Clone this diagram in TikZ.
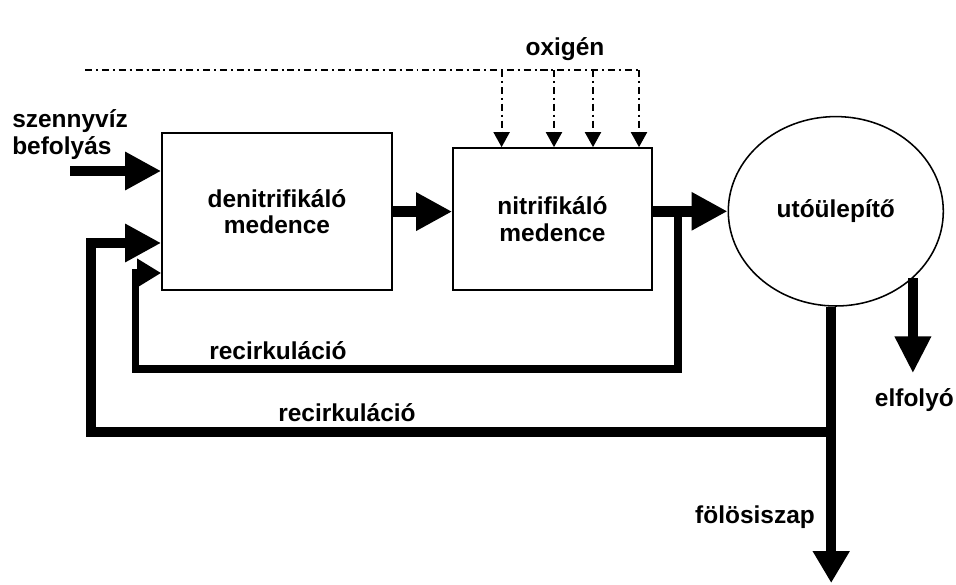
\documentclass[tikz,border=0pt]{standalone}
\usepackage{fontspec}
\setmainfont{Liberation Sans}
\usetikzlibrary{arrows.meta, shapes.geometric}

\begin{document}
\begin{tikzpicture}[
	font=\fontsize{17.4}{19}\selectfont\bfseries,
	% Styles for the basins and the flow lines
	basin/.style={draw, line width=1.2pt, align=center, inner sep=0pt},
	flow/.style={line width=7.2pt, -{Triangle[length=9mm, width=9mm]}},
	recflow/.style={line width=5.3pt, -{Triangle[length=6mm, width=6.8mm]}},
	airflow/.style={line width=1.4pt, dash pattern=on 5pt off 2.8pt on 1.4pt off 2.8pt},
	labeltext/.style={inner sep=0pt}
	]
	\useasboundingbox (0,0) rectangle (23.9,14.6);
	
	% ==========================================
	% 1. BASINS
	% ==========================================
	\node[basin, minimum width=5.75cm, minimum height=3.925cm] (denit) at (6.925,9.31) {denitrifikáló\\medence};
	\node[basin, minimum width=4.975cm, minimum height=3.55cm] (nitr) at (13.8125,9.125) {nitrifikáló\\medence};
	\node[basin, ellipse, line width=1.1pt, minimum width=5.375cm, minimum height=4.735cm] (settler) at (20.895,9.3175) {utóülepítő};
	
	% ==========================================
	% 2. MAIN FLOW
	% ==========================================
	\coordinate (inflow) at (1.75,10.325);
	\draw[flow] (inflow) -- (inflow -| denit.west);
	\draw[flow, line width=7.6pt] (denit.east) -- (denit.east -| nitr.west);
	\draw[flow, line width=7.6pt] (nitr.east |- settler.west) -- (settler.west);
	
	% ==========================================
	% 3. OXYGEN SUPPLY
	% ==========================================
	\coordinate (air) at (2.125,12.85);
	\coordinate (airend) at (15.975,12.85);
	\draw[airflow] (air) -- (airend);
	\foreach \x in {12.54,13.85,14.825,15.975}
		\draw[airflow, -{Triangle[length=3.75mm, width=4mm]}] (\x,0 |- air) -- (\x,0 |- nitr.north);
	
	% ==========================================
	% 4. RECIRCULATION LOOPS
	% ==========================================
	% Inner loop: nitrified water back to the denitrification basin
	\coordinate (tap) at (16.95,9.31);
	\coordinate (inret) at (3.3875,7.775);
	\draw[recflow] (tap) -- (tap |- 0,5.375) -| (inret) -- (inret -| denit.west);
	
	% Outer loop: returned sludge from the settler
	\coordinate (split) at (20.78,3.8075);
	\coordinate (outret) at (2.275,8.525);
	\draw[flow] (split) -| (outret) -- (outret -| denit.west);
	
	% ==========================================
	% 5. OUTLETS
	% ==========================================
	\coordinate (effl) at (22.8075,5.2675);
	\draw[flow, -{Triangle[length=9.2mm, width=8.5mm]}] (settler.-41.4) -- (settler.-41.4 |- effl);
	
	\coordinate (sludge) at (20.78,0.025);
	\draw[flow, line width=6.8pt, -{Triangle[length=8mm, width=8.75mm]}] (split |- settler.south) -- (sludge);
	
	% ==========================================
	% 6. LABELS
	% ==========================================
	\node[labeltext] (o2lbl) at (14.125,13.375) {oxigén};
	\node[labeltext, align=left, anchor=west] (feedlbl) at (0.3,11.23) {szennyvíz\\befolyás};
	\node[labeltext] (rec1lbl) at (6.95,5.84) {recirkuláció};
	\node[labeltext] (rec2lbl) at (8.675,4.275) {recirkuláció};
	\node[labeltext] (sludgelbl) at (18.875,1.675) {fölösiszap};
	\node[labeltext] (effllbl) at (22.86,4.6) {elfolyó};
	
\end{tikzpicture}
\end{document}
